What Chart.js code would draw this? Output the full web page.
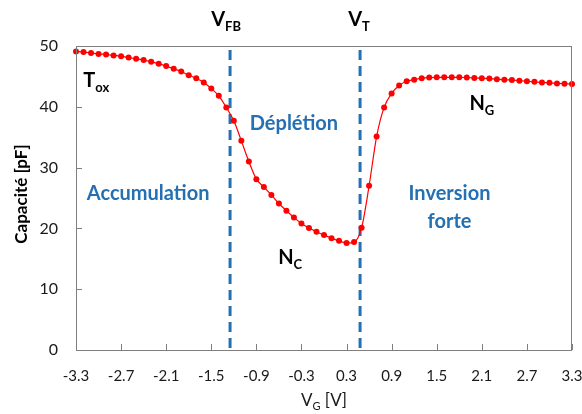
<!DOCTYPE html>
<html>
<head>
<meta charset="utf-8">
<script src="https://cdn.jsdelivr.net/npm/chart.js@4.4.1/dist/chart.umd.min.js"></script>
<style>
html,body{margin:0;padding:0;background:#fff;}
#wrap{width:582px;height:414px;position:relative;}
</style>
</head>
<body>
<div id="wrap"><canvas id="c"></canvas></div>
<script>
// ---- data ----
const voltages = [-3.3,-3.2,-3.1,-3.0,-2.9,-2.8,-2.7,-2.6,-2.5,-2.4,-2.3,-2.2,-2.1,-2.0,-1.9,-1.8,-1.7,-1.6,-1.5,-1.4,-1.3,-1.2,-1.1,-1.0,-0.9,-0.8,-0.7,-0.6,-0.5,-0.4,-0.3,-0.2,-0.1,0.0,0.1,0.2,0.3,0.4,0.5,0.6,0.7,0.8,0.9,1.0,1.1,1.2,1.3,1.4,1.5,1.6,1.7,1.8,1.9,2.0,2.1,2.2,2.3,2.4,2.5,2.6,2.7,2.8,2.9,3.0,3.1,3.2,3.3];
const capacitance = [49.1,49.0,48.85,48.7,48.6,48.45,48.3,48.1,47.9,47.7,47.4,47.1,46.7,46.25,45.8,45.2,44.7,44.0,43.0,41.8,39.9,37.7,34.4,31.0,28.1,26.8,25.5,24.1,22.9,21.8,20.8,20.05,19.45,18.9,18.4,17.95,17.6,17.75,20.1,27.0,35.1,39.9,42.2,43.5,44.2,44.45,44.7,44.8,44.85,44.85,44.85,44.85,44.8,44.75,44.7,44.65,44.55,44.45,44.4,44.3,44.2,44.1,44.0,43.95,43.85,43.8,43.75];
const xTickValues = [-3.3,-2.7,-2.1,-1.5,-0.9,-0.3,0.3,0.9,1.5,2.1,2.7,3.3];
const yTickValues = [0,10,20,30,40,50];
const VFB = -1.25;
const VT = 0.48;
// region labels: [main text, subscript, x (V), y (pF)]
const regionLabels = [
  ['Accumulation','',-2.34,25.8],
  ['Déplétion','',-0.40,37.3],
  ['Inversion','',1.67,25.8],
  ['forte','',1.67,21.1],
  ['T','ox',-3.03,44.4],
  ['N','C',-0.45,15.3],
  ['N','G',2.10,40.6]
];
const xTitle = ['V','G',' [V]'];
const yTitle = 'Capacité [pF]';

const FONT = 'Lato, "Open Sans", sans-serif';
const BLUE = '#2470B3';
const pts = voltages.map((v,i)=>({x:v,y:capacitance[i]}));

function drawSub(ctx, main, sub, rest, cx, cy, size, subSize, color, weight) {
  const wt = weight || 'bold';
  ctx.save();
  ctx.fillStyle = color;
  ctx.textBaseline = 'alphabetic';
  ctx.font = wt + ' ' + size + 'px ' + FONT;
  const w1 = ctx.measureText(main).width;
  ctx.font = wt + ' ' + subSize + 'px ' + FONT;
  const w2 = ctx.measureText(sub).width;
  ctx.font = wt + ' ' + size + 'px ' + FONT;
  const w3 = rest ? ctx.measureText(rest).width : 0;
  let x = cx - (w1 + w2 + w3) / 2;
  ctx.textAlign = 'left';
  ctx.fillText(main, x, cy);
  x += w1;
  ctx.font = wt + ' ' + subSize + 'px ' + FONT;
  ctx.fillText(sub, x, cy + size * 0.25);
  x += w2;
  if (rest) {
    ctx.font = wt + ' ' + size + 'px ' + FONT;
    ctx.fillText(rest, x, cy);
  }
  ctx.restore();
}

const decor = {
  id: 'decor',
  beforeDatasetsDraw(chart) {
    const {ctx, chartArea: a, scales: {x}} = chart;
    ctx.save();
    ctx.strokeStyle = BLUE;
    ctx.lineWidth = 3;
    ctx.setLineDash([10, 6]);
    [VFB, VT].forEach(v => {
      const px = x.getPixelForValue(v);
      ctx.beginPath();
      ctx.moveTo(px, a.top + 4);
      ctx.lineTo(px, a.bottom - 2);
      ctx.stroke();
    });
    ctx.restore();
  },
  afterDatasetsDraw(chart) {
    const {ctx, chartArea: a, scales: {x, y}} = chart;
    ctx.save();
    ctx.strokeStyle = '#7f7f7f';
    ctx.lineWidth = 1;
    ctx.strokeRect(a.left + 0.5, a.top + 0.5, a.right - a.left - 1, a.bottom - a.top);
    ctx.beginPath();
    xTickValues.forEach(v => {
      const px = Math.round(x.getPixelForValue(v)) + 0.5;
      ctx.moveTo(px, a.bottom);
      ctx.lineTo(px, a.bottom - 6);
    });
    yTickValues.forEach(v => {
      const py = Math.round(y.getPixelForValue(v)) + 0.5;
      ctx.moveTo(a.left, py);
      ctx.lineTo(a.left + 6, py);
    });
    ctx.stroke();
    ctx.restore();

    regionLabels.forEach(([t, s, vx, vy]) => {
      const px = x.getPixelForValue(vx);
      const py = y.getPixelForValue(vy);
      if (s) {
        drawSub(ctx, t, s, '', px, py + 7, 20, 13, '#000');
      } else {
        ctx.save();
        ctx.fillStyle = BLUE;
        ctx.font = 'bold 20px ' + FONT;
        ctx.textAlign = 'center';
        ctx.textBaseline = 'middle';
        ctx.fillText(t, px, py);
        ctx.restore();
      }
    });
    drawSub(ctx, 'V', 'FB', '', x.getPixelForValue(VFB) - 4, a.top - 20, 20, 13, '#000');
    drawSub(ctx, 'V', 'T', '', x.getPixelForValue(VT) - 1, a.top - 20, 20, 13, '#000');

    drawSub(ctx, xTitle[0], xTitle[1], xTitle[2], (a.left + a.right) / 2, 406, 17, 11, '#1a1a1a', 'normal');
    ctx.save();
    ctx.translate(22, 194);
    ctx.rotate(-Math.PI / 2);
    ctx.fillStyle = '#000';
    ctx.font = 'bold 17px ' + FONT;
    ctx.textAlign = 'center';
    ctx.textBaseline = 'middle';
    ctx.fillText(yTitle, 0, 0);
    ctx.restore();
  }
};

new Chart(document.getElementById('c'), {
  type: 'scatter',
  data: {
    datasets: [{
      data: pts,
      showLine: true,
      borderColor: '#ff0000',
      borderWidth: 1.2,
      backgroundColor: '#ff0000',
      pointRadius: 3,
      pointBorderWidth: 0,
      pointBackgroundColor: '#ff0000',
      cubicInterpolationMode: 'monotone',
      clip: false
    }]
  },
  options: {
    responsive: true,
    maintainAspectRatio: false,
    animation: false,
    layout: {padding: {top: 46, right: 10, left: 0, bottom: 0}},
    plugins: {legend: {display: false}, tooltip: {enabled: false}},
    scales: {
      x: {
        type: 'linear',
        min: -3.3, max: 3.3,
        afterBuildTicks: s => { s.ticks = xTickValues.map(v => ({value: v})); },
        afterFit: s => { s.height = 64; s.paddingLeft = 0; s.paddingRight = 0; },
        grid: {display: false, drawTicks: false},
        border: {display: false},
        ticks: {
          padding: 17,
          color: '#1a1a1a',
          font: {family: FONT, size: 15},
          maxRotation: 0,
          autoSkip: false,
          callback: v => v.toFixed(1)
        }
      },
      y: {
        min: 0, max: 50,
        afterBuildTicks: s => { s.ticks = yTickValues.map(v => ({value: v})); },
        afterFit: s => { s.width = 76; s.paddingTop = 0; s.paddingBottom = 0; },
        grid: {display: false, drawTicks: false},
        border: {display: false},
        ticks: {
          padding: 18,
          color: '#1a1a1a',
          font: {family: FONT, size: 16},
          callback: v => String(v)
        }
      }
    }
  },
  plugins: [decor]
});
</script>
</body>
</html>
